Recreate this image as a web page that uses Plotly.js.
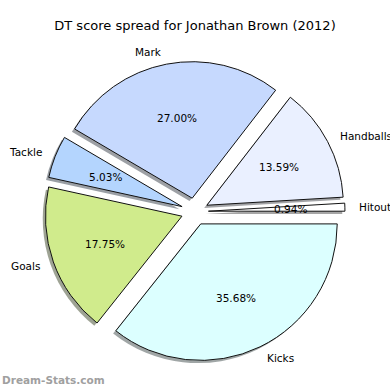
<!DOCTYPE html>
<html>
<head>
<meta charset="utf-8">
<script src="https://cdn.plot.ly/plotly-3.0.1.min.js"></script>
<style>html,body{margin:0;padding:0;background:#fff;}#chart{width:390px;height:390px;}</style>
</head>
<body>
<div id="chart"></div>
<script>
// Data (ordered clockwise starting at 3 o'clock)
const labels = ['Kicks', 'Goals', 'Tackle', 'Mark', 'Handballs', 'Hitout'];
const values = [35.68, 17.75, 5.03, 27.00, 13.59, 0.94];
const percentText = ['35.68%', '17.75%', '5.03%', '27.00%', '13.59%', '0.94%'];
const colors = ['#dcffff', '#d0eb8c', '#b4d5fe', '#c6d9fe', '#eaf0ff', '#ffffff'];

// Layout geometry
const W = 390, H = 390;
const cx = 194.8, cy = 211.6, R = 136.5, PULL = 0.1;
const LABEL_DIST = 1.09, PCT_DIST = 0.6;
const half = R * (1 + PULL);
const domX = [(cx - half) / W, (cx + half) / W];
const domY = [1 - (cy + half) / H, 1 - (cy - half) / H];
const sh = 2.7; // shadow offset px
const pulls = values.map(() => PULL);

function shadowColor(hex) {
  const r = parseInt(hex.slice(1, 3), 16), g = parseInt(hex.slice(3, 5), 16), b = parseInt(hex.slice(5, 7), 16);
  return 'rgba(' + Math.round(r * 0.3) + ',' + Math.round(g * 0.3) + ',' + Math.round(b * 0.3) + ',0.5)';
}

const shadow = {
  type: 'pie', labels: labels, values: values, sort: false,
  direction: 'clockwise', rotation: 90, pull: pulls,
  marker: {colors: colors.map(shadowColor), line: {width: 0}},
  textinfo: 'none', hoverinfo: 'skip', showlegend: false,
  domain: {x: [domX[0] - sh / W, domX[1] - sh / W], y: [domY[0] - sh / H, domY[1] - sh / H]}
};
const pie = {
  type: 'pie', labels: labels, values: values, sort: false,
  direction: 'clockwise', rotation: 90, pull: pulls,
  marker: {colors: colors, line: {color: '#111', width: 1}},
  textinfo: 'none', hoverinfo: 'label+percent', showlegend: false,
  domain: {x: domX, y: domY}
};

// Labels and percentages positioned from slice angles
const total = values.reduce((a, b) => a + b, 0);
const annotations = [];
let theta = 0;
values.forEach((v, i) => {
  const a = v / total * 360;
  const mid = (theta - a / 2) * Math.PI / 180;
  theta -= a;
  const c = Math.cos(mid), s = Math.sin(mid);
  const ex = cx + PULL * R * c, ey = cy - PULL * R * s;
  const lx = ex + LABEL_DIST * R * c, ly = ey - LABEL_DIST * R * s;
  const px = ex + PCT_DIST * R * c, py = ey - PCT_DIST * R * s;
  annotations.push({
    x: lx / W, y: 1 - ly / H, xref: 'paper', yref: 'paper',
    text: labels[i], showarrow: false,
    xanchor: c > 0 ? 'left' : 'right', yanchor: 'middle',
    font: {family: 'DejaVu Sans', size: 10.5, color: '#000'}
  });
  annotations.push({
    x: px / W, y: 1 - py / H, xref: 'paper', yref: 'paper',
    text: percentText[i], showarrow: false,
    xanchor: 'center', yanchor: 'middle',
    font: {family: 'DejaVu Sans', size: 10.5, color: '#000'}
  });
});
annotations.push({
  x: 0, y: 10 / H, xref: 'paper', yref: 'paper', xanchor: 'left', yanchor: 'middle',
  text: 'Dream-Stats.com', showarrow: false,
  font: {family: 'DejaVu Sans', size: 10.5, color: '#a0a0a0', weight: 'bold'}
});

const layout = {
  width: W, height: H,
  margin: {l: 0, r: 0, t: 0, b: 0},
  paper_bgcolor: '#fff',
  title: {
    text: 'DT score spread for Jonathan Brown (2012)',
    x: 0.5, xref: 'container', xanchor: 'center',
    y: 1 - 25 / H, yref: 'container', yanchor: 'middle',
    font: {family: 'DejaVu Sans', size: 13, color: '#000'}
  },
  annotations: annotations
};

Plotly.newPlot('chart', [shadow, pie], layout, {staticPlot: true, displayModeBar: false});
</script>
</body>
</html>
